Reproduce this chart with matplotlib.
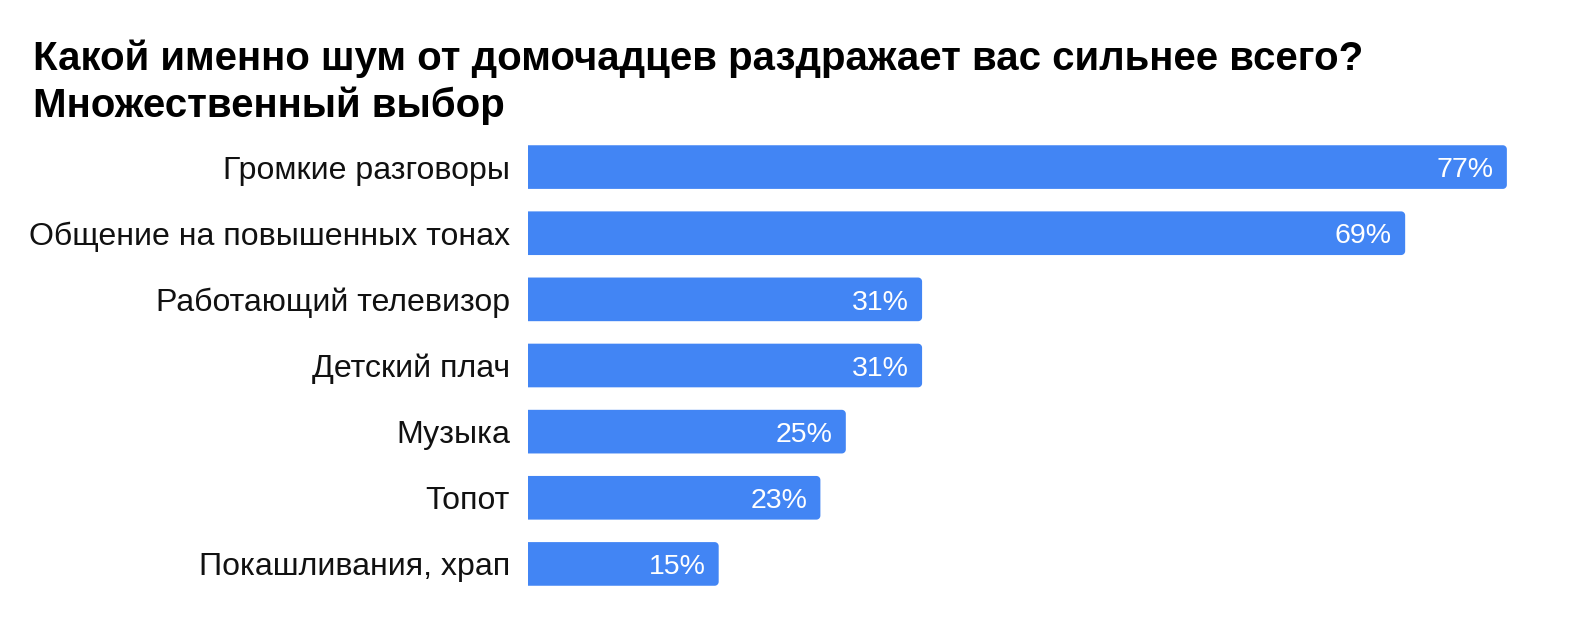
import numpy as np
import matplotlib.pyplot as plt
from matplotlib.patches import PathPatch
from matplotlib.path import Path

plt.rcParams['font.family'] = ['Liberation Sans', 'DejaVu Sans']

# данные
categories = ["Громкие разговоры", "Общение на повышенных тонах", "Работающий телевизор",
              "Детский плач", "Музыка", "Топот", "Покашливания, храп"]
values = [77, 69, 31, 31, 25, 23, 15]
value_labels = ["77%", "69%", "31%", "31%", "25%", "23%", "15%"]
title1 = "Какой именно шум от домочадцев раздражает вас сильнее всего?"
title2 = "Множественный выбор"

bar_color = "#4285F4"
W, H = 1584, 638

fig = plt.figure(figsize=(W / 100, H / 100), dpi=100)
ax = fig.add_axes([528 / W, 1 - 597 / H, 1017 / W, 463 / H])

xmax = 80
bh = 0.66
r_px = 4
rx = r_px / (1017 / xmax)
ry = r_px / (463 / 7)


def bar_path(v, yc):
    # прямоугольник со скругленными правыми углами
    y0, y1 = yc - bh / 2, yc + bh / 2
    t = np.linspace(0, np.pi / 2, 8)
    pts = [(0, y0), (v - rx, y0)]
    pts += [(v - rx + rx * np.sin(a), y0 + ry - ry * np.cos(a)) for a in t]
    pts += [(v - rx + rx * np.cos(a), y1 - ry + ry * np.sin(a)) for a in t]
    pts += [(v - rx, y1), (0, y1), (0, y0)]
    return Path(pts, closed=True)


val_fs = 20.5
for i, v in enumerate(values):
    ax.add_patch(PathPatch(bar_path(v, i), fc=bar_color, ec="none"))
    ax.annotate(value_labels[i], (v, i), xytext=(-9.5, -val_fs * 0.716 / 2),
                textcoords="offset points", ha="right", va="baseline",
                color="white", fontsize=val_fs)

ax.set_xlim(0, xmax)
ax.set_ylim(6.5, -0.5)
ax.set_yticks(range(len(categories)))
ax.set_yticklabels(categories, fontsize=23.1, color="#111111")
ax.tick_params(axis="y", length=0, pad=13)
ax.set_xticks([])
for s in ax.spines.values():
    s.set_visible(False)

fig.text(33 / W, 1 - 70 / H, title1, fontsize=29, fontweight="bold", ha="left", va="baseline")
fig.text(33 / W, 1 - 117 / H, title2, fontsize=29, fontweight="bold", ha="left", va="baseline")

fig.savefig("out.png", dpi=100)
